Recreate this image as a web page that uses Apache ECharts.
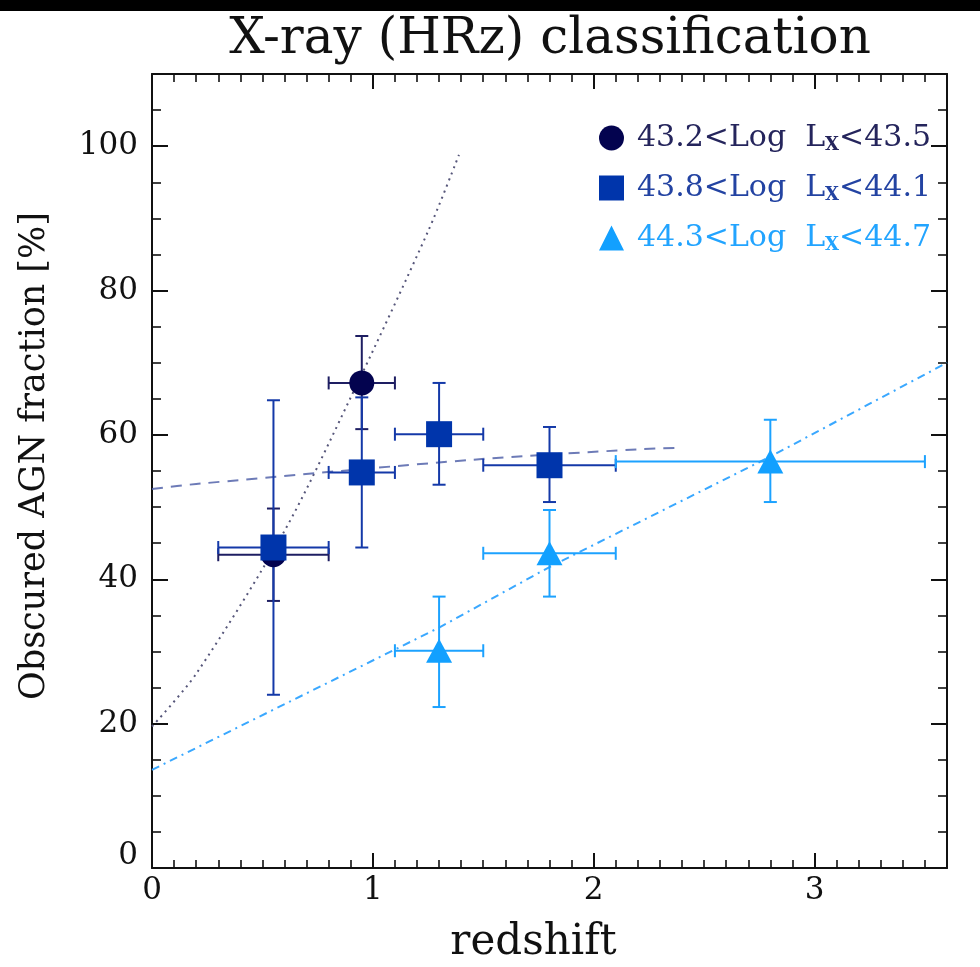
<!DOCTYPE html>
<html><head><meta charset="utf-8">
<script src="https://cdn.jsdelivr.net/npm/echarts@6/dist/echarts.min.js"></script>
<style>html,body{margin:0;padding:0;background:#fff;} #c{width:980px;height:967px;}</style>
</head><body><div id="c"></div>
<script>
// ---- data ----
const binLow = ['43.2', '43.8', '44.3'];
const binHigh = ['43.5', '44.1', '44.7'];
const binNames = ['43.2<Log LX<43.5', '43.8<Log LX<44.1', '44.3<Log LX<44.7'];

// 43.2 < Log Lx < 43.5
const z1 = [0.55, 0.95];
const f1 = [43.4, 67.2];
const z1Min = [0.3, 0.8];
const z1Max = [0.8, 1.1];
const f1Min = [37.0, 60.8];
const f1Max = [49.8, 73.7];

// 43.8 < Log Lx < 44.1
const z2 = [0.55, 0.95, 1.3, 1.8];
const f2 = [44.4, 54.8, 60.1, 55.8];
const z2Min = [0.3, 0.8, 1.1, 1.5];
const z2Max = [0.8, 1.1, 1.5, 2.1];
const f2Min = [24.0, 44.4, 53.1, 50.7];
const f2Max = [64.8, 65.2, 67.2, 61.1];

// 44.3 < Log Lx < 44.7
const z3 = [1.3, 1.8, 2.8];
const f3 = [30.1, 43.6, 56.3];
const z3Min = [1.1, 1.5, 2.1];
const z3Max = [1.5, 2.1, 3.5];
const f3Min = [22.3, 37.6, 50.7];
const f3Max = [37.6, 49.6, 62.1];

// fitted trends
const fit1Z = [0, 0.2, 0.6, 0.9, 1.25, 1.39];
const fit1F = [19.6, 26.9, 46.7, 65.2, 88.2, 98.8];
const fit2Z = [0, 0.2, 1.47, 2.2, 2.39];
const fit2F = [52.5, 53.2, 56.6, 58.0, 58.2];
const fit3Z = [0, 1.3, 1.8, 2.8, 3.6];
const fit3F = [13.6, 33.3, 41.7, 57.0, 70.0];

const xTicks = [0, 1, 2, 3];
const yTicks = [0, 20, 40, 60, 80, 100];

// ---- styling ----
const markColors = ['#03034f', '#0035ab', '#12a0ff'];
const barColors = ['#1e1e62', '#1439a8', '#1ca2ff'];
const textColors = ['#25255c', '#2343a2', '#22a4ff'];
const FONT = 'DejaVu Serif';

const zip = (...a) => a[0].map((_, i) => a.map(arr => arr[i]));

function errRender(color) {
  return function (params, api) {
    const x = api.value(0), y = api.value(1);
    const c = api.coord([x, y]);
    const xl = api.coord([api.value(2), y])[0];
    const xh = api.coord([api.value(3), y])[0];
    const yl = api.coord([x, api.value(4)])[1];
    const yh = api.coord([x, api.value(5)])[1];
    const cap = 6.5;
    const st = { stroke: color, lineWidth: 2 };
    const L = (x1, y1, x2, y2) => ({ type: 'line', shape: { x1, y1, x2, y2 }, style: st });
    return {
      type: 'group',
      children: [
        L(xl, c[1], xh, c[1]),
        L(xl, c[1] - cap, xl, c[1] + cap),
        L(xh, c[1] - cap, xh, c[1] + cap),
        L(c[0], yl, c[0], yh),
        L(c[0] - cap, yl, c[0] + cap, yl),
        L(c[0] - cap, yh, c[0] + cap, yh)
      ]
    };
  };
}

const axisCommon = {
  type: 'value',
  axisLine: { show: true, onZero: false, lineStyle: { color: '#111', width: 2 } },
  splitLine: { show: false },
  axisTick: { show: true, inside: true, length: 15, lineStyle: { color: '#111', width: 2 } },
  minorTick: { show: true, length: 8, lineStyle: { color: '#111', width: 1.6 } }
};

const chart = echarts.init(document.getElementById('c'));
const rich = {};
for (let i = 0; i < 3; i++) {
  rich['t' + i] = { fontFamily: FONT, fontSize: 30, lineHeight: 32, color: textColors[i] };
  rich['s' + i] = { fontFamily: FONT, fontSize: 18, fontWeight: 'bold', lineHeight: 12, verticalAlign: 'bottom', color: textColors[i] };
}

const errSets = [
  zip(z1, f1, z1Min, z1Max, f1Min, f1Max),
  zip(z2, f2, z2Min, z2Max, f2Min, f2Max),
  zip(z3, f3, z3Min, z3Max, f3Min, f3Max)
];
const ptSets = [zip(z1, f1), zip(z2, f2), zip(z3, f3)];
const symbols = ['circle', 'rect', 'triangle'];
const symSizes = [25, 26, [26, 24]];

const series = [
  { type: 'line', data: zip(fit1Z, fit1F), smooth: 0.3, symbol: 'none', z: 1, silent: true,
    lineStyle: { color: '#56567a', width: 2, type: [2, 4.5] } },
  { type: 'line', data: zip(fit2Z, fit2F), smooth: 0.3, symbol: 'none', z: 1, silent: true,
    lineStyle: { color: '#5464aa', width: 2, type: [11, 8], opacity: 0.85 } },
  { type: 'line', data: zip(fit3Z, fit3F), symbol: 'none', z: 1, silent: true,
    lineStyle: { color: '#3aa8ff', width: 2, type: [8, 5, 2, 5] } }
];
for (let i = 0; i < 3; i++) {
  series.push({ type: 'custom', name: binNames[i] + ' err', renderItem: errRender(barColors[i]),
    data: errSets[i], z: 2, silent: true });
}
for (let i = 0; i < 3; i++) {
  series.push({ type: 'scatter', name: binNames[i], data: ptSets[i], symbol: symbols[i],
    symbolSize: symSizes[i], z: 3, itemStyle: { color: markColors[i], opacity: 1 } });
}

chart.setOption({
  animation: false,
  backgroundColor: '#fff',
  title: {
    text: 'X-ray (HRz) classification',
    left: 545, top: 10, textAlign: 'center',
    textStyle: { fontFamily: FONT, fontSize: 50, fontWeight: 'normal', color: '#111' }
  },
  graphic: [{ type: 'rect', shape: { x: 0, y: 0, width: 980, height: 11 }, style: { fill: '#000' }, silent: true }],
  legend: {
    orient: 'vertical', left: 594, top: 118,
    itemWidth: 25, itemHeight: 25, itemGap: 19,
    data: binNames.map((n, i) => ({ name: n, icon: symbols[i] })),
    formatter: function (name) {
      const i = binNames.indexOf(name);
      return '{t' + i + '|' + binLow[i] + '<Log  L}{s' + i + '|X}{t' + i + '|<' + binHigh[i] + '}';
    },
    textStyle: { rich: rich, padding: [0, 0, 0, 8] }
  },
  grid: { left: 152, right: 33, top: 74, bottom: 99, containLabel: false, outerBoundsMode: 'none' },
  xAxis: [
    Object.assign({}, axisCommon, {
      min: 0, max: 3.6, interval: 1, position: 'bottom',
      minorTick: Object.assign({}, axisCommon.minorTick, { splitNumber: 10 }),
      axisLabel: { show: true, margin: 7, fontFamily: FONT, fontSize: 31, color: '#111',
        formatter: v => (xTicks.indexOf(v) >= 0 ? String(v) : '') },
      name: 'redshift', nameLocation: 'middle', nameGap: 54,
      nameTextStyle: { fontFamily: FONT, fontSize: 42, color: '#111', padding: [0, 32, 0, 0] }
    }),
    Object.assign({}, axisCommon, {
      min: 0, max: 3.6, interval: 1, position: 'top',
      minorTick: Object.assign({}, axisCommon.minorTick, { splitNumber: 10 }),
      axisLabel: { show: false }
    })
  ],
  yAxis: [
    Object.assign({}, axisCommon, {
      min: 0, max: 110, interval: 20, position: 'left',
      minorTick: Object.assign({}, axisCommon.minorTick, { splitNumber: 4, length: 9 }),
      axisTick: Object.assign({}, axisCommon.axisTick, { length: 16 }),
      axisLabel: { show: true, margin: 14, fontFamily: FONT, fontSize: 31, lineHeight: 24, color: '#111',
        verticalAlignMinLabel: 'bottom',
        formatter: v => (yTicks.indexOf(v) >= 0 ? String(v) : '') },
      name: 'Obscured AGN fraction [%]', nameLocation: 'middle', nameGap: 100, nameRotate: 90,
      nameTextStyle: { fontFamily: FONT, fontSize: 35, color: '#111', padding: [0, 0, 0, 30] }
    }),
    Object.assign({}, axisCommon, {
      min: 0, max: 110, interval: 20, position: 'right',
      minorTick: Object.assign({}, axisCommon.minorTick, { splitNumber: 4, length: 9 }),
      axisTick: Object.assign({}, axisCommon.axisTick, { length: 16 }),
      axisLabel: { show: false }
    })
  ],
  series: series
});
</script></body></html>
